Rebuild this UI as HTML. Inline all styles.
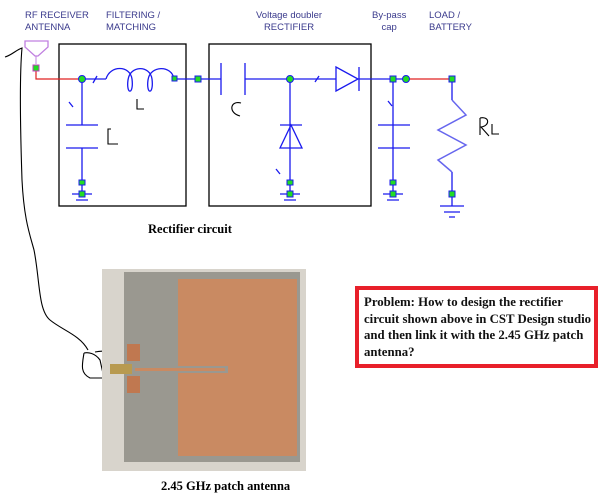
<!DOCTYPE html>
<html><head><style>
body{margin:0;width:601px;height:501px;background:#fff;overflow:hidden;position:relative;font-family:"Liberation Sans",sans-serif}
.l{position:absolute;font-size:9.5px;color:#3a3a8c;line-height:12px}
.prob{position:absolute;left:355px;top:286px;width:230px;height:70px;border:4px solid #e8202a;font:bold 12.8px "Liberation Serif",serif;padding:4px 0 0 5px;line-height:16.5px;color:#111;white-space:nowrap;overflow:hidden}
</style></head><body>
<div class="l" style="left:25px;top:10px">RF RECEIVER<br>ANTENNA</div>
<div class="l" style="left:106px;top:10px">FILTERING /<br>MATCHING</div>
<div class="l" style="left:256px;top:10px;text-align:center">Voltage doubler<br>RECTIFIER</div>
<div class="l" style="left:372px;top:10px;text-align:center">By-pass<br>cap</div>
<div class="l" style="left:429px;top:10px">LOAD /<br>BATTERY</div>
<div style="position:absolute;left:148px;top:222px;font:bold 12.5px 'Liberation Serif',serif">Rectifier circuit</div>
<div style="position:absolute;left:161px;top:479px;font:bold 12.5px 'Liberation Serif',serif">2.45 GHz patch antenna</div>
<svg width="601" height="501" style="position:absolute;left:0;top:0">
<g fill="none" stroke="#000" stroke-width="1.3">
<rect x="59" y="44" width="127" height="162"/><rect x="209" y="44" width="162" height="162"/>
</g>
<path d="M25,41 H48 V47 L38,56 H35 L25,47Z" fill="none" stroke="#c080e0" stroke-width="1.3"/>
<line x1="36" y1="56" x2="36" y2="64" stroke="#c080e0"/>
<path d="M36,70 V79 H82 M406,79 H452" stroke="#e02020" stroke-width="1.2" fill="none"/>
<g stroke="#1a1aee" stroke-width="1.3" fill="none">
<path d="M82,79 H106 M174,79 H221 M221,63 V95 M245,63 V95 M245,79 H336 M359,79 H406"/>
<path d="M106,79 C110,65 130,65 132,79 C134,95 126,95 128,80 C130,65 150,65 152,79 C154,95 146,95 148,80 C150,65 172,65 174,79"/>
<path d="M82,79 V125 M66,125 H98 M66,148 H98 M82,148 V194 M72,194 H92 M76,200 H88"/>
<path d="M336,67 V91 L358,79Z M359,67 V91"/>
<path d="M290,79 V194 M280,125 H302 M280,148 L291,125 L302,148Z M280,194 H300 M284,200 H296"/>
<path d="M393,79 V194 M378,125 H410 M378,148 H410 M383,194 H403 M387,200 H399"/>
<path d="M452,79 V100 M452,172 V206 M440,206 H464 M444,212 H460 M449,217 H455"/>
<path d="M69,102 L73,107 M276,169 L280,174 M93,83 L97,76 M315,82 L319,76 M388,101 L392,106"/>
</g>
<path d="M452,100 L466,115 L438,130 L466,145 L438,160 L452,172" stroke="#6666ee" stroke-width="1.5" fill="none"/>
<g fill="#22dd22" stroke="#1a1aee">
<circle cx="82" cy="79" r="3.5"/><circle cx="290" cy="79" r="3.5"/><circle cx="406" cy="79" r="3.5"/>
<rect x="172" y="76" width="5" height="5"/><rect x="195" y="76" width="6" height="6"/><rect x="390" y="76" width="6" height="6"/><rect x="449" y="76" width="6" height="6"/>
<rect x="79" y="180" width="6" height="5"/><rect x="79" y="191" width="6" height="6"/>
<rect x="287" y="180" width="6" height="5"/><rect x="287" y="191" width="6" height="6"/>
<rect x="390" y="180" width="6" height="5"/><rect x="390" y="191" width="6" height="6"/>
<rect x="449" y="191" width="6" height="6"/>
<rect x="33" y="65" width="6" height="6" stroke="#c040c0"/>
</g>
<g fill="none" stroke="#000" stroke-width="1.1">
<path d="M5,57 C12,55 16,50 22,48 C20,70 20,120 22,180 C24,220 30,235 34,250 C40,280 38,310 50,320 C62,330 80,335 88,350"/>
<path d="M137,99 V109 H144 M241,103 C230,100 228,113 240,116 M111,129 H108 V144 H118 M480,118 V135 M480,118 C490,116 490,126 481,127 L489,136 M492,124 V134 H499"/>
<path d="M84,353 C82,365 80,373 90,378 L104,378 L100,360 C95,353 88,352 84,353 M95,352 C105,350 113,352 110,359"/>
</g>
<rect x="102" y="269" width="204" height="202" fill="#d8d4cc"/>
<rect x="124" y="272" width="176" height="190" fill="#9a9890"/>
<rect x="178" y="279" width="119" height="177" fill="#c98a62"/>
<rect x="178" y="366" width="50" height="7" fill="#9a9890"/>
<rect x="135" y="368" width="90" height="3" fill="#c98a62"/>
<rect x="127" y="344" width="13" height="17" fill="#c07850"/><rect x="127" y="376" width="13" height="17" fill="#c07850"/>
<rect x="110" y="364" width="22" height="10" fill="#b89a50"/>
</svg>
<div class="prob">Problem: How to design the rectifier<br>circuit shown above in CST Design studio<br>and then link it with the 2.45 GHz patch<br>antenna?</div>
</body></html>
